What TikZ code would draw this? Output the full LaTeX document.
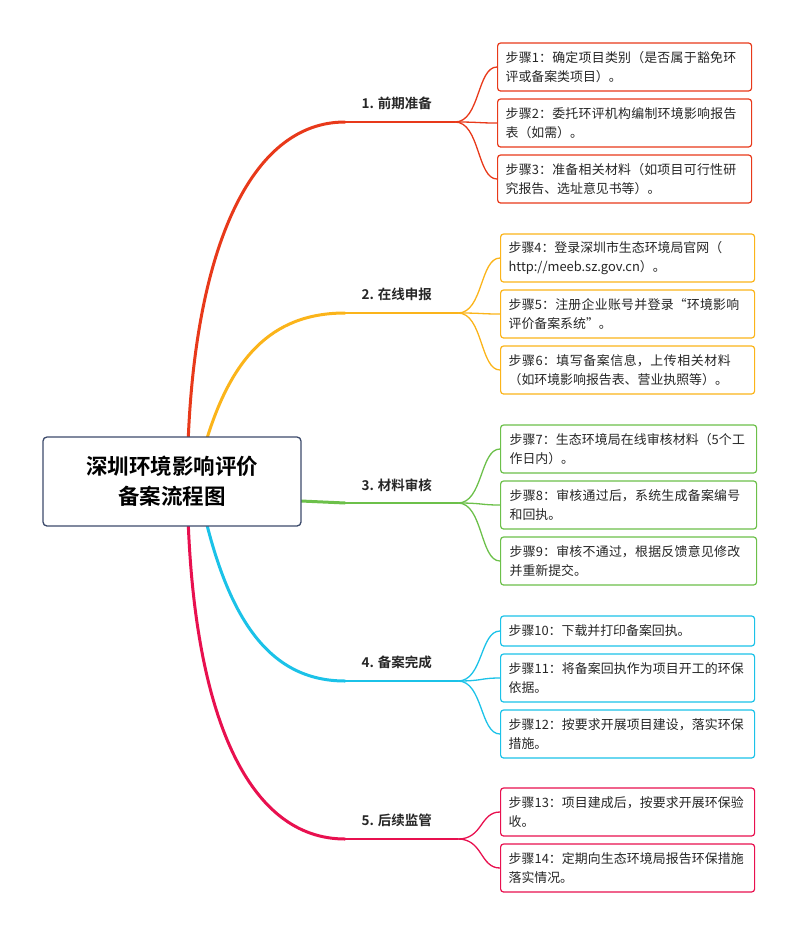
\documentclass[tikz,border=0pt]{standalone}
\usepackage{fontspec}
\setmainfont{Noto Sans CJK SC}[BoldFont={Noto Sans CJK SC Bold}]
\XeTeXlinebreaklocale "zh"
\XeTeXlinebreakskip=0pt plus 1pt
\begin{document}
\begin{tikzpicture}[x=1pt,y=-1pt,
 stepbox/.style={draw=#1,line width=1.2pt,rounded corners=3pt,fill=white,minimum width=254pt,minimum height=48pt,text width=238pt,align=left,font=\fontsize{12.9}{19}\selectfont,inner xsep=7pt,anchor=west,text=black!85},
 brlabel/.style={font=\bfseries\fontsize{13.5}{15}\selectfont,text=black!85,anchor=west},
 trunk/.style={draw=#1,line width=3pt,line cap=round},
 twig/.style={draw=#1,line width=1.3pt}]
\useasboundingbox (0,0) rectangle (799,935);
\definecolor{cA}{HTML}{E8391A}\definecolor{cB}{HTML}{FBB41A}\definecolor{cC}{HTML}{6CC04A}\definecolor{cD}{HTML}{1BC2E8}\definecolor{cE}{HTML}{E8104F}
\coordinate (r1) at (188,445);\coordinate (r2) at (205,445);\coordinate (r3) at (301,501);\coordinate (r4) at (205,517);\coordinate (r5) at (188,517);
\coordinate (a1) at (345,122);\coordinate (e1) at (455,122);
\coordinate (a2) at (345,313);\coordinate (e2) at (458,313);
\coordinate (a3) at (345,503);\coordinate (e3) at (458,503);
\coordinate (a4) at (345,681);\coordinate (e4) at (458,681);
\coordinate (a5) at (345,839);\coordinate (e5) at (458,839);
\draw[trunk=cA] (r1) .. controls (195,250) and (250,122) .. (a1);
\draw[trunk=cB] (r2) .. controls (230,360) and (270,313) .. (a2);
\draw[trunk=cC] (r3) -- (a3);
\draw[trunk=cD] (r4) .. controls (230,620) and (270,681) .. (a4);
\draw[trunk=cE] (r5) .. controls (195,720) and (250,839) .. (a5);
\draw[twig=cA] (a1)--(e1);\draw[twig=cB] (a2)--(e2);\draw[twig=cC] (a3)--(e3);\draw[twig=cD] (a4)--(e4);\draw[twig=cE] (a5)--(e5);
\node[draw={rgb,255:red,60;green,74;blue,107},line width=1.3pt,rounded corners=4pt,fill=white,minimum width=258pt,minimum height=89pt,align=center,font=\bfseries\fontsize{21.5}{30}\selectfont] (root) at (172,481.5) {深圳环境影响评价\\备案流程图};
\node[brlabel] (b1) at (358,103) {1. 前期准备};
\node[brlabel] (b2) at (358,294) {2. 在线申报};
\node[brlabel] (b3) at (358,485) {3. 材料审核};
\node[brlabel] (b4) at (358,662) {4. 备案完成};
\node[brlabel] (b5) at (358,820) {5. 后续监管};
\node[stepbox=cA] (s1) at (497,67) {步骤1：确定项目类别（是否属于豁免环评或备案类项目）。};
\node[stepbox=cA] (s2) at (497,123) {步骤2：委托环评机构编制环境影响报告表（如需）。};
\node[stepbox=cA] (s3) at (497,179) {步骤3：准备相关材料（如项目可行性研究报告、选址意见书等）。};
\node[stepbox=cB] (s4) at (500,258) {步骤4：登录深圳市生态环境局官网（\\http://meeb.sz.gov.cn）。};
\node[stepbox=cB] (s5) at (500,314) {步骤5：注册企业账号并登录“环境影响评价备案系统”。};
\node[stepbox=cB] (s6) at (500,370) {步骤6：填写备案信息，上传相关材料（如环境影响报告表、营业执照等）。};
\node[stepbox=cC,minimum width=256pt] (s7) at (500,449) {步骤7：生态环境局在线审核材料（5个工作日内）。};
\node[stepbox=cC,minimum width=256pt] (s8) at (500,505) {步骤8：审核通过后，系统生成备案编号和回执。};
\node[stepbox=cC,minimum width=256pt] (s9) at (500,561) {步骤9：审核不通过，根据反馈意见修改并重新提交。};
\node[stepbox=cD,minimum height=30pt] (s10) at (500,631) {步骤10：下载并打印备案回执。};
\node[stepbox=cD] (s11) at (500,678) {步骤11：将备案回执作为项目开工的环保依据。};
\node[stepbox=cD] (s12) at (500,734) {步骤12：按要求开展项目建设，落实环保措施。};
\node[stepbox=cE] (s13) at (500,812) {步骤13：项目建成后，按要求开展环保验收。};
\node[stepbox=cE] (s14) at (500,868) {步骤14：定期向生态环境局报告环保措施落实情况。};
\foreach \e/\c/\list in {e1/cA/{s1,s2,s3},e2/cB/{s4,s5,s6},e3/cC/{s7,s8,s9},e4/cD/{s10,s11,s12},e5/cE/{s13,s14}}{
 \foreach \s in \list {
  \draw[twig=\c] (\e) .. controls ([xshift=25pt]\e) and ([xshift=-20pt]\s.west) .. (\s.west);
 }}
\end{tikzpicture}
\end{document}
